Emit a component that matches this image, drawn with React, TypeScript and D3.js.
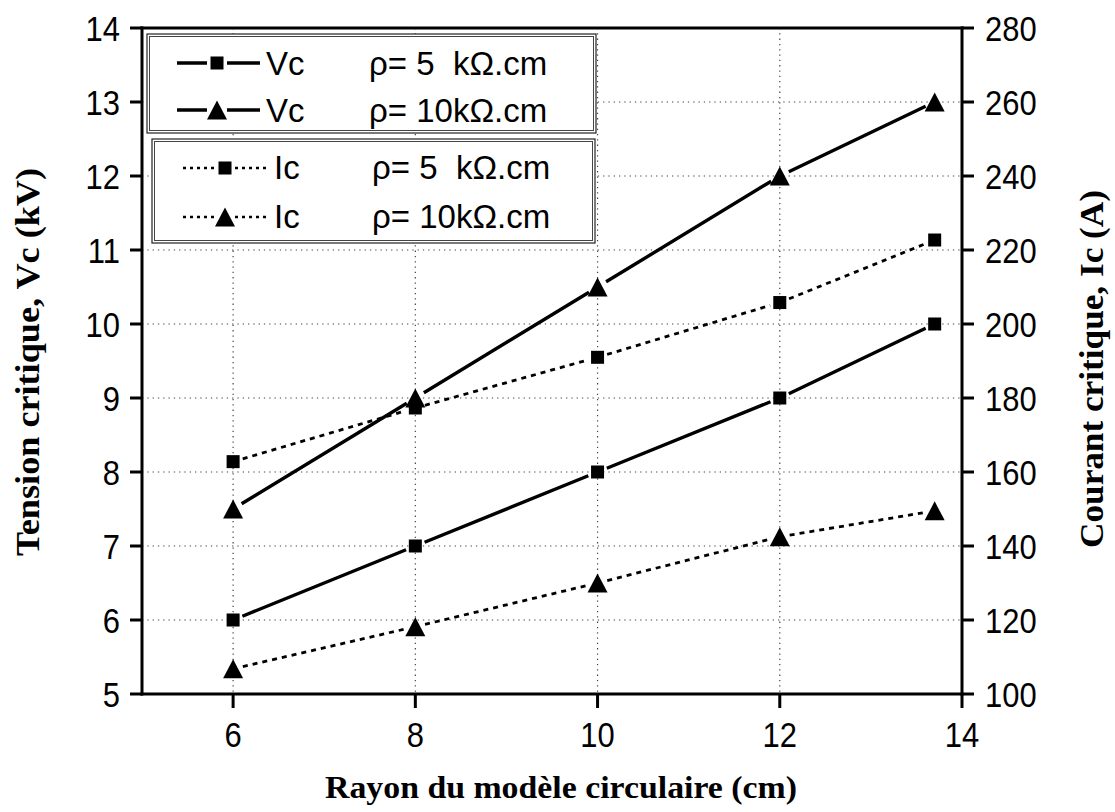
import React from "react";
import * as d3 from "d3";

// Critical voltage / current versus radius of the circular model
const radius = [6, 8, 10, 12, 13.7];
const vc5 = [6, 7, 8, 9, 10];
const vc10 = [7.5, 9, 10.5, 12, 13];
const ic5 = [162.8, 177.3, 191, 205.8, 222.7];
const ic10 = [106.8, 118.2, 130, 142.5, 149.5];

const xTicks = [6, 8, 10, 12, 14];
const yLeftTicks = [5, 6, 7, 8, 9, 10, 11, 12, 13, 14];
const yRightTicks = [100, 120, 140, 160, 180, 200, 220, 240, 260, 280];
const xGrid = [6, 8, 10, 12];
const yGrid = [6, 7, 8, 9, 10, 11, 12, 13];

const W = 1115;
const H = 812;
const L = 142, R = 962, T = 28, B = 694;

const x = d3.scaleLinear().domain([5, 14]).range([L, R]);
const yL = d3.scaleLinear().domain([5, 14]).range([B, T]);
const yR = d3.scaleLinear().domain([100, 280]).range([B, T]);

const SANS = "'Liberation Sans', Arial, sans-serif";
const SERIF = "'Liberation Serif', 'Times New Roman', serif";

type Pt = [number, number];

// line segments between consecutive symbols, trimmed so they stop short of each symbol
function gappedPath(pts: Pt[], gap: number): string {
  let d = "";
  for (let i = 0; i < pts.length - 1; i++) {
    const [x0, y0] = pts[i];
    const [x1, y1] = pts[i + 1];
    const len = Math.hypot(x1 - x0, y1 - y0);
    const ux = (x1 - x0) / len, uy = (y1 - y0) / len;
    d += `M${x0 + ux * gap},${y0 + uy * gap}L${x1 - ux * gap},${y1 - uy * gap}`;
  }
  return d;
}

function Square({ cx, cy, s = 13 }: { cx: number; cy: number; s?: number }) {
  return <rect x={cx - s / 2} y={cy - s / 2} width={s} height={s} fill="#000" />;
}

function Triangle({ cx, cy, w = 20, h = 19 }: { cx: number; cy: number; w?: number; h?: number }) {
  return (
    <path
      d={`M${cx},${cy - h / 2}L${cx + w / 2},${cy + h / 2}L${cx - w / 2},${cy + h / 2}Z`}
      fill="#000"
    />
  );
}

const series = [
  { vals: vc5, scale: yL, marker: "square", dashed: false },
  { vals: vc10, scale: yL, marker: "triangle", dashed: false },
  { vals: ic5, scale: yR, marker: "square", dashed: true },
  { vals: ic10, scale: yR, marker: "triangle", dashed: true },
];

const legendRows = [
  { name: "Vc", rho: "ρ= 5  kΩ.cm", marker: "square", dashed: false },
  { name: "Vc", rho: "ρ= 10kΩ.cm", marker: "triangle", dashed: false },
  { name: "Ic", rho: "ρ= 5  kΩ.cm", marker: "square", dashed: true },
  { name: "Ic", rho: "ρ= 10kΩ.cm", marker: "triangle", dashed: true },
];

function TickLabel({ tx, ty, anchor, text }: { tx: number; ty: number; anchor: string; text: string }) {
  return (
    <text
      transform={`translate(${tx},${ty}) scale(0.86,1)`}
      textAnchor={anchor as any}
      fontFamily={SANS}
      fontSize={36}
      fill="#000"
    >
      {text}
    </text>
  );
}

function DoubleBox({ x0, y0, x1, y1 }: { x0: number; y0: number; x1: number; y1: number }) {
  return (
    <g>
      <rect x={x0} y={y0} width={x1 - x0} height={y1 - y0} fill="#fff" stroke="#222" strokeWidth={1.2} />
      <rect x={x0 + 2.5} y={y0 + 2.5} width={x1 - x0 - 5} height={y1 - y0 - 5} fill="none" stroke="#444" strokeWidth={1} />
    </g>
  );
}

export default function App() {
  const legendY = [63, 110, 168, 217];
  const legendBase = [75, 122, 179, 228];
  return (
    <svg
      width={W}
      height={H}
      viewBox={`0 0 ${W} ${H}`}
      style={{ position: "absolute", left: 0, top: 0, background: "#fff" }}
    >
      <rect x={0} y={0} width={W} height={H} fill="#fff" />

      {/* dotted grid */}
      <g stroke="#444" strokeWidth={1.2} strokeDasharray="1.3 4">
        {xGrid.map((v) => (
          <line key={"gx" + v} x1={x(v)} x2={x(v)} y1={T} y2={B} />
        ))}
        {yGrid.map((v) => (
          <line key={"gy" + v} x1={L} x2={R} y1={yL(v)} y2={yL(v)} />
        ))}
      </g>

      {/* legend boxes */}
      <DoubleBox x0={147} y0={34} x1={596} y1={133} />
      <DoubleBox x0={152} y0={139} x1={595} y1={243} />

      {/* data lines */}
      {series.map((s, i) => {
        const pts: Pt[] = radius.map((r, j) => [x(r), s.scale(s.vals[j])]);
        return (
          <path
            key={"ln" + i}
            d={gappedPath(pts, 10)}
            fill="none"
            stroke="#000"
            strokeWidth={s.dashed ? 2.8 : 3.4}
            strokeDasharray={s.dashed ? "5 5" : undefined}
          />
        );
      })}

      {/* symbols */}
      {series.map((s, i) =>
        radius.map((r, j) =>
          s.marker === "square" ? (
            <Square key={`m${i}-${j}`} cx={x(r)} cy={s.scale(s.vals[j])} />
          ) : (
            <Triangle key={`m${i}-${j}`} cx={x(r)} cy={s.scale(s.vals[j])} />
          )
        )
      )}

      {/* legend entries */}
      {legendRows.map((row, i) => {
        const cy = legendY[i];
        const cx = row.dashed ? 225 : 217;
        const x0 = row.dashed ? 183 : 177;
        const x1 = row.dashed ? 267 : 260;
        return (
          <g key={"lg" + i}>
            <path
              d={`M${x0},${cy}L${cx - 10},${cy}M${cx + 10},${cy}L${x1},${cy}`}
              stroke="#000"
              strokeWidth={row.dashed ? 2.6 : 3.4}
              strokeDasharray={row.dashed ? "3 4" : undefined}
            />
            {row.marker === "square" ? (
              <Square cx={cx} cy={cy} />
            ) : (
              <Triangle cx={cx} cy={cy} />
            )}
            <text x={row.dashed ? 274 : 266} y={legendBase[i]} fontFamily={SANS} fontSize={33} fill="#000">
              {row.name}
            </text>
            <text
              x={row.dashed ? 372 : 369}
              y={legendBase[i]}
              fontFamily={SANS}
              fontSize={33}
              fill="#000"
              style={{ whiteSpace: "pre" }}
            >
              {row.rho}
            </text>
          </g>
        );
      })}

      {/* axes frame */}
      <g stroke="#000" strokeWidth={3} fill="none" strokeLinecap="square">
        <line x1={L} x2={R} y1={T} y2={T} />
        <line x1={L} x2={R} y1={B} y2={B} />
        <line x1={L} x2={L} y1={T} y2={B} />
        <line x1={R} x2={R} y1={T} y2={B} />
      </g>

      {/* ticks */}
      <g stroke="#000" strokeWidth={3}>
        {yLeftTicks.map((v) => (
          <line key={"tl" + v} x1={L - 12} x2={L} y1={yL(v)} y2={yL(v)} />
        ))}
        {yRightTicks.map((v) => (
          <line key={"tr" + v} x1={R} x2={R + 12} y1={yR(v)} y2={yR(v)} />
        ))}
        {xTicks.map((v) => (
          <line key={"tb" + v} x1={x(v)} x2={x(v)} y1={B} y2={B + 14} />
        ))}
      </g>

      {/* tick labels */}
      {yLeftTicks.map((v) => (
        <TickLabel key={"ll" + v} tx={120} ty={yL(v) + 13} anchor="end" text={String(v)} />
      ))}
      {yRightTicks.map((v) => (
        <TickLabel key={"rl" + v} tx={985} ty={yR(v) + 13} anchor="start" text={String(v)} />
      ))}
      {xTicks.map((v) => (
        <TickLabel key={"bl" + v} tx={x(v)} ty={747} anchor="middle" text={String(v)} />
      ))}

      {/* axis titles */}
      <text
        x={561}
        y={798}
        textAnchor="middle"
        fontFamily={SERIF}
        fontWeight="bold"
        fontSize={31}
        textLength={472}
        lengthAdjust="spacingAndGlyphs"
      >
        Rayon du modèle circulaire (cm)
      </text>
      <text
        transform={`translate(39,362) rotate(-90)`}
        textAnchor="middle"
        fontFamily={SERIF}
        fontWeight="bold"
        fontSize={34}
        textLength={388}
        lengthAdjust="spacingAndGlyphs"
      >
        Tension critique, Vc (kV)
      </text>
      <text
        transform={`translate(1103,369) rotate(-90)`}
        textAnchor="middle"
        fontFamily={SERIF}
        fontWeight="bold"
        fontSize={34}
        textLength={358}
        lengthAdjust="spacingAndGlyphs"
      >
        Courant critique, Ic (A)
      </text>
    </svg>
  );
}
